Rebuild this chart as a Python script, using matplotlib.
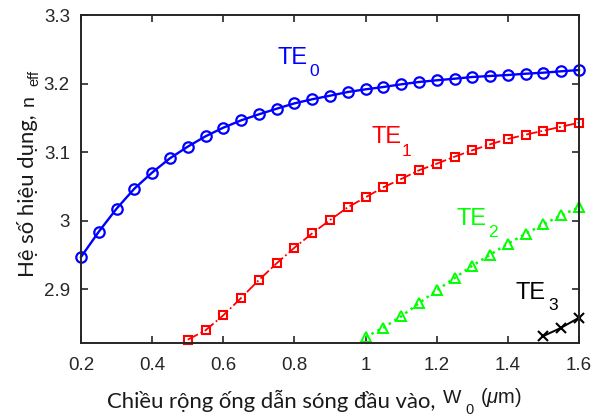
import matplotlib
matplotlib.use("Agg")
import matplotlib.pyplot as plt
import numpy as np

plt.rcParams['mathtext.fontset'] = 'custom'
plt.rcParams['mathtext.rm'] = 'Liberation Sans'
plt.rcParams['mathtext.it'] = 'Liberation Sans:italic'
plt.rcParams['mathtext.bf'] = 'Liberation Sans:bold'

# ---- data ----
w_te0 = [0.2, 0.25, 0.3, 0.35, 0.4, 0.45, 0.5, 0.55, 0.6, 0.65, 0.7, 0.75, 0.8, 0.85, 0.9,
         0.95, 1.0, 1.05, 1.1, 1.15, 1.2, 1.25, 1.3, 1.35, 1.4, 1.45, 1.5, 1.55, 1.6]
n_te0 = [2.9467, 2.9837, 3.0173, 3.0465, 3.0700, 3.0908, 3.1078, 3.1229, 3.1355, 3.1462,
         3.1550, 3.1632, 3.1710, 3.1770, 3.1822, 3.1876, 3.1915, 3.1949, 3.1988, 3.2022,
         3.2047, 3.2070, 3.2095, 3.2110, 3.2124, 3.2143, 3.2158, 3.2178, 3.2197]

w_te1 = [0.5, 0.55, 0.6, 0.65, 0.7, 0.75, 0.8, 0.85, 0.9, 0.95, 1.0, 1.05, 1.1, 1.15,
         1.2, 1.25, 1.3, 1.35, 1.4, 1.45, 1.5, 1.55, 1.6]
n_te1 = [2.8260, 2.8397, 2.8616, 2.8869, 2.9131, 2.9375, 2.9603, 2.9813, 3.0007, 3.0193,
         3.0339, 3.0485, 3.0606, 3.0733, 3.0829, 3.0931, 3.1025, 3.1112, 3.1190, 3.1253,
         3.1311, 3.1369, 3.1428]

w_te2 = [1.0, 1.05, 1.1, 1.15, 1.2, 1.25, 1.3, 1.35, 1.4, 1.45, 1.5, 1.55, 1.6]
n_te2 = [2.8299, 2.8435, 2.8601, 2.8791, 2.8981, 2.9160, 2.9340, 2.9500, 2.9661, 2.9807,
         2.9944, 3.0076, 3.0193]

w_te3 = [1.5, 1.55, 1.6]
n_te3 = [2.8314, 2.8435, 2.8581]

x_ticks = [0.2, 0.4, 0.6, 0.8, 1.0, 1.2, 1.4, 1.6]
x_ticklabels = ['0.2', '0.4', '0.6', '0.8', '1', '1.2', '1.4', '1.6']
y_ticks = [2.9, 3.0, 3.1, 3.2, 3.3]
y_ticklabels = ['2.9', '3', '3.1', '3.2', '3.3']

mode_names = ['TE', 'TE', 'TE', 'TE']
mode_subs = ['0', '1', '2', '3']

W, H = 605, 416
fig = plt.figure(figsize=(W / 100, H / 100), dpi=100)
ax = fig.add_axes([81 / W, 1 - 343 / H, (579 - 81) / W, (343 - 15) / H])

ax.plot(w_te0, n_te0, '-', color=(0, 0, 1), lw=1.7, marker='o', ms=7.5, mfc='none',
        mew=1.6, clip_on=False)
ax.plot(w_te1, n_te1, '-.', color=(1, 0, 0), lw=1.3, marker='s', ms=5.5, mfc='none',
        mew=1.5, clip_on=False)
ax.plot(w_te2, n_te2, ':', color=(0, 1, 0), lw=1.8, marker='^', ms=7.5, mfc='none',
        mew=1.4, clip_on=False)
ax.plot(w_te3, n_te3, '-', color='k', lw=1.4, marker='x', ms=7, mew=1.5, clip_on=False)

ax.set_xlim(0.2, 1.6)
ax.set_ylim(2.8212, 3.3)
ax.set_xticks(x_ticks)
ax.set_xticklabels(x_ticklabels)
ax.set_yticks(y_ticks)
ax.set_yticklabels(y_ticklabels)

tick_color = '#262626'
for s in ax.spines.values():
    s.set_linewidth(1.4)
    s.set_color(tick_color)
ax.tick_params(direction='in', length=5, width=1.2, colors=tick_color,
               top=True, right=True, labelsize=13.5)
ax.tick_params(axis='x', pad=10)
ax.tick_params(axis='y', pad=8)
for lab in ax.get_xticklabels() + ax.get_yticklabels():
    lab.set_family('Liberation Sans')


def ptext(px, py, s, **kw):
    """Place text at figure pixel coordinates (origin top-left)."""
    return fig.text(px / W, 1 - py / H, s, **kw)


# mode labels
main_pos = [(278, 64), (371, 143), (457, 225), (516, 299)]
sub_pos = [(309, 76), (402, 156), (488, 237), (548, 310)]
colors = [(0, 0, 1), (1, 0, 0), (0, 1, 0), 'k']
for name, sub, mp, sp, c in zip(mode_names, mode_subs, main_pos, sub_pos, colors):
    ptext(mp[0], mp[1], name, color=c, fontsize=17, family='Liberation Sans',
          ha='left', va='baseline')
    ptext(sp[0], sp[1], sub, color=c, fontsize=12.5, family='Liberation Sans',
          ha='left', va='baseline')

lab_color = '#1a1a1a'
# x label
ptext(107, 408, 'Chiều rộng ống dẫn sóng đầu vào,', family='Lato', fontsize=15.9,
      ha='left', va='baseline', color=lab_color)
ptext(443, 403, 'W', family='Liberation Sans', fontsize=14, ha='left',
      va='baseline', color=lab_color)
ptext(465, 414, '0', family='Liberation Sans', fontsize=10.5, ha='left',
      va='baseline', color=lab_color)
ptext(480, 403, r'($\mu$m)', family='Liberation Sans', fontsize=14.5, ha='left',
      va='baseline', color=lab_color)

# y label
ptext(34, 277, 'Hệ số hiệu dụng,', family='Lato', fontsize=15.9, rotation=90,
      rotation_mode='anchor', ha='left', va='baseline', color=lab_color)
ptext(34, 106, 'n', family='Liberation Sans', fontsize=14, rotation=90,
      rotation_mode='anchor', ha='left', va='baseline', color=lab_color)
ptext(38, 86, 'eff', family='Liberation Sans', fontsize=10.5, rotation=90,
      rotation_mode='anchor', ha='left', va='baseline', color=lab_color)

fig.savefig('out.png', dpi=100)
